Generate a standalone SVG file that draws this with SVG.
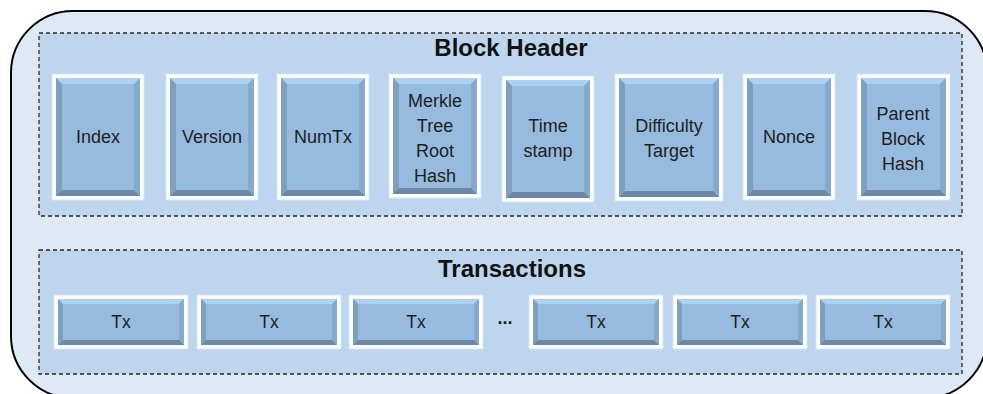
<svg xmlns="http://www.w3.org/2000/svg" width="983" height="394" viewBox="0 0 983 394">
  <style>
    .frame { fill: #dee9f5; stroke: #000; stroke-width: 2; }
    .section { fill: #bdd6ed; stroke: #2a2a2a; stroke-width: 1.3; stroke-dasharray: 4 3; }
    .title { font-family: "Liberation Sans", Arial, sans-serif; font-weight: bold; font-size: 24px; fill: #111; text-anchor: middle; }
    .rim { fill: #fff; stroke: #d3e6f8; stroke-width: 1; }
    .face { fill: #96bbdf; }
    .bt { fill: #a9d2f6; }
    .bl { fill: #7f9fbe; }
    .br { fill: #87a9ca; }
    .bb { fill: #6c88a4; }
    .lbl { font-family: "Liberation Sans", Arial, sans-serif; font-size: 18px; fill: #1e1e1e; text-anchor: middle; }
    .tx { font-size: 17.5px; }
  </style>

  <!-- block container -->
  <rect class="frame" x="11" y="11" width="976" height="387" rx="62" ry="62"/>

  <!-- header section -->
  <g id="block-header">
    <rect class="section" x="39" y="33" width="923" height="183"/>
    <text class="title" x="511" y="56">Block Header</text>
  </g>

  <!-- transactions section -->
  <g id="transactions">
    <rect class="section" x="39" y="250" width="923" height="124"/>
    <text class="title" x="512" y="277">Transactions</text>
  </g>

  <!-- header fields: white rim, bevelled face -->
  <g id="field-index">
    <rect class="rim" x="52" y="74" width="92" height="126"/>
    <rect class="face" x="56" y="78" width="84" height="118"/>
    <polygon class="bt" points="56,78 140,78 134,84 62,84"/>
    <polygon class="bl" points="56,78 62,84 62,190 56,196"/>
    <polygon class="br" points="140,78 140,196 134,190 134,84"/>
    <polygon class="bb" points="56,196 62,190 134,190 140,196"/>
    <text class="lbl" x="98" y="143">Index</text>
  </g>

  <g id="field-version">
    <rect class="rim" x="166" y="74" width="92" height="126"/>
    <rect class="face" x="170" y="78" width="84" height="118"/>
    <polygon class="bt" points="170,78 254,78 248,84 176,84"/>
    <polygon class="bl" points="170,78 176,84 176,190 170,196"/>
    <polygon class="br" points="254,78 254,196 248,190 248,84"/>
    <polygon class="bb" points="170,196 176,190 248,190 254,196"/>
    <text class="lbl" x="212" y="143">Version</text>
  </g>

  <g id="field-numtx">
    <rect class="rim" x="277" y="74" width="92" height="126"/>
    <rect class="face" x="281" y="78" width="84" height="118"/>
    <polygon class="bt" points="281,78 365,78 359,84 287,84"/>
    <polygon class="bl" points="281,78 287,84 287,190 281,196"/>
    <polygon class="br" points="365,78 365,196 359,190 359,84"/>
    <polygon class="bb" points="281,196 287,190 359,190 365,196"/>
    <text class="lbl" x="323" y="143">NumTx</text>
  </g>

  <g id="field-merkle-root">
    <rect class="rim" x="389" y="74" width="92" height="124"/>
    <rect class="face" x="393" y="78" width="84" height="116"/>
    <polygon class="bt" points="393,78 477,78 471,84 399,84"/>
    <polygon class="bl" points="393,78 399,84 399,188 393,194"/>
    <polygon class="br" points="477,78 477,194 471,188 471,84"/>
    <polygon class="bb" points="393,194 399,188 471,188 477,194"/>
    <text class="lbl" x="435" y="106.5">Merkle</text>
    <text class="lbl" x="435" y="131.5">Tree</text>
    <text class="lbl" x="435" y="156.5">Root</text>
    <text class="lbl" x="435" y="181.5">Hash</text>
  </g>

  <g id="field-timestamp">
    <rect class="rim" x="502" y="76" width="92" height="126"/>
    <rect class="face" x="506" y="80" width="84" height="118"/>
    <polygon class="bt" points="506,80 590,80 584,86 512,86"/>
    <polygon class="bl" points="506,80 512,86 512,192 506,198"/>
    <polygon class="br" points="590,80 590,198 584,192 584,86"/>
    <polygon class="bb" points="506,198 512,192 584,192 590,198"/>
    <text class="lbl" x="548" y="132">Time</text>
    <text class="lbl" x="548" y="157">stamp</text>
  </g>

  <g id="field-difficulty">
    <rect class="rim" x="615" y="74" width="108" height="127"/>
    <rect class="face" x="619" y="78" width="100" height="119"/>
    <polygon class="bt" points="619,78 719,78 713,84 625,84"/>
    <polygon class="bl" points="619,78 625,84 625,191 619,197"/>
    <polygon class="br" points="719,78 719,197 713,191 713,84"/>
    <polygon class="bb" points="619,197 625,191 713,191 719,197"/>
    <text class="lbl" x="669" y="132">Difficulty</text>
    <text class="lbl" x="669" y="157">Target</text>
  </g>

  <g id="field-nonce">
    <rect class="rim" x="743" y="74" width="92" height="126"/>
    <rect class="face" x="747" y="78" width="84" height="118"/>
    <polygon class="bt" points="747,78 831,78 825,84 753,84"/>
    <polygon class="bl" points="747,78 753,84 753,190 747,196"/>
    <polygon class="br" points="831,78 831,196 825,190 825,84"/>
    <polygon class="bb" points="747,196 753,190 825,190 831,196"/>
    <text class="lbl" x="789" y="143">Nonce</text>
  </g>

  <g id="field-parent-hash">
    <rect class="rim" x="857" y="74" width="93" height="126"/>
    <rect class="face" x="861" y="78" width="85" height="118"/>
    <polygon class="bt" points="861,78 946,78 940,84 867,84"/>
    <polygon class="bl" points="861,78 867,84 867,190 861,196"/>
    <polygon class="br" points="946,78 946,196 940,190 940,84"/>
    <polygon class="bb" points="861,196 867,190 940,190 946,196"/>
    <text class="lbl" x="903" y="120">Parent</text>
    <text class="lbl" x="903" y="145">Block</text>
    <text class="lbl" x="903" y="170">Hash</text>
  </g>

  <!-- transaction entries -->
  <g id="tx-1">
    <rect class="rim" x="54" y="295" width="134" height="54"/>
    <rect class="face" x="58" y="299" width="126" height="46"/>
    <polygon class="bt" points="58,299 184,299 179,304 63,304"/>
    <polygon class="bl" points="58,299 63,304 63,340 58,345"/>
    <polygon class="br" points="184,299 184,345 179,340 179,304"/>
    <polygon class="bb" points="58,345 63,340 179,340 184,345"/>
    <text class="lbl tx" x="121" y="328">Tx</text>
  </g>

  <g id="tx-2">
    <rect class="rim" x="197" y="295" width="144" height="54"/>
    <rect class="face" x="201" y="299" width="136" height="46"/>
    <polygon class="bt" points="201,299 337,299 332,304 206,304"/>
    <polygon class="bl" points="201,299 206,304 206,340 201,345"/>
    <polygon class="br" points="337,299 337,345 332,340 332,304"/>
    <polygon class="bb" points="201,345 206,340 332,340 337,345"/>
    <text class="lbl tx" x="269" y="328">Tx</text>
  </g>

  <g id="tx-3">
    <rect class="rim" x="349" y="295" width="134" height="54"/>
    <rect class="face" x="353" y="299" width="126" height="46"/>
    <polygon class="bt" points="353,299 479,299 474,304 358,304"/>
    <polygon class="bl" points="353,299 358,304 358,340 353,345"/>
    <polygon class="br" points="479,299 479,345 474,340 474,304"/>
    <polygon class="bb" points="353,345 358,340 474,340 479,345"/>
    <text class="lbl tx" x="416" y="328">Tx</text>
  </g>

  <text class="lbl" x="505" y="324" font-weight="bold" font-size="19">...</text>

  <g id="tx-4">
    <rect class="rim" x="529" y="295" width="134" height="54"/>
    <rect class="face" x="533" y="299" width="126" height="46"/>
    <polygon class="bt" points="533,299 659,299 654,304 538,304"/>
    <polygon class="bl" points="533,299 538,304 538,340 533,345"/>
    <polygon class="br" points="659,299 659,345 654,340 654,304"/>
    <polygon class="bb" points="533,345 538,340 654,340 659,345"/>
    <text class="lbl tx" x="596" y="328">Tx</text>
  </g>

  <g id="tx-5">
    <rect class="rim" x="673" y="295" width="134" height="54"/>
    <rect class="face" x="677" y="299" width="126" height="46"/>
    <polygon class="bt" points="677,299 803,299 798,304 682,304"/>
    <polygon class="bl" points="677,299 682,304 682,340 677,345"/>
    <polygon class="br" points="803,299 803,345 798,340 798,304"/>
    <polygon class="bb" points="677,345 682,340 798,340 803,345"/>
    <text class="lbl tx" x="740" y="328">Tx</text>
  </g>

  <g id="tx-6">
    <rect class="rim" x="816" y="295" width="134" height="54"/>
    <rect class="face" x="820" y="299" width="126" height="46"/>
    <polygon class="bt" points="820,299 946,299 941,304 825,304"/>
    <polygon class="bl" points="820,299 825,304 825,340 820,345"/>
    <polygon class="br" points="946,299 946,345 941,340 941,304"/>
    <polygon class="bb" points="820,345 825,340 941,340 946,345"/>
    <text class="lbl tx" x="883" y="328">Tx</text>
  </g>

  <!-- no connectors in this layout -->
  <g id="connectors"/>
</svg>
